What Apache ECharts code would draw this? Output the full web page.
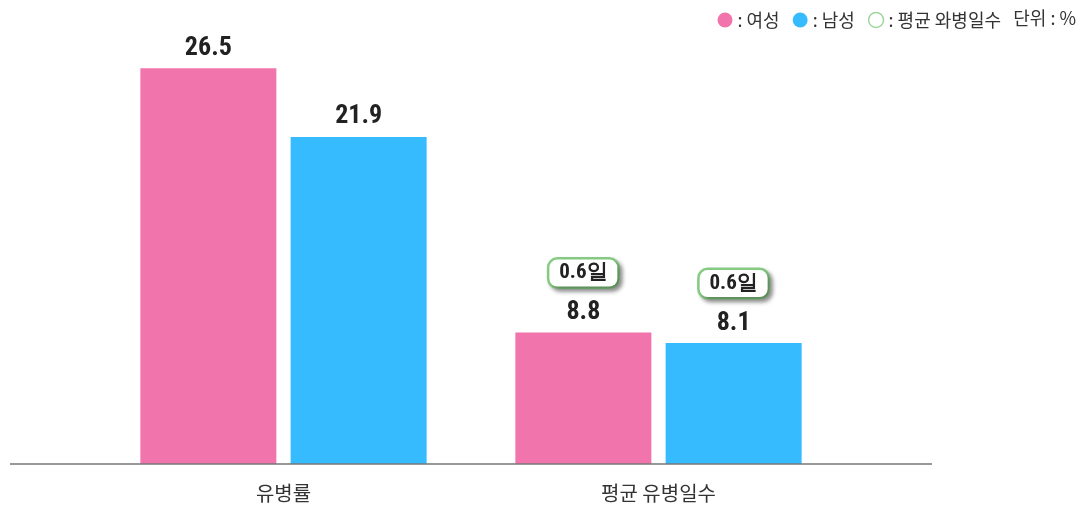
<!DOCTYPE html>
<html>
<head>
  <meta charset="utf-8">
  <title>유병률</title>
  <script src="https://cdn.jsdelivr.net/npm/echarts@6/dist/echarts.min.js"></script>
  <style>
    body { margin: 0; padding: 0; background: #fff; }
    #main { width: 1090px; height: 508px; }
  </style>
</head>
<body>
<div id="main"></div>
<script>
  // 항목 / 값
  const categories = ['유병률', '평균 유병일수'];
  const female = [26.5, 8.8];
  const male = [21.9, 8.1];
  // 평균 와병일수 (두번째 항목만)
  const femaleBedDays = [null, 0.6];
  const maleBedDays = [null, 0.6];

  const PINK = '#f174ac';
  const BLUE = '#35bbfe';
  const GREEN = '#86cc84';
  const NUM_FONT = '"Roboto Condensed", "Liberation Sans Narrow", Roboto, "DejaVu Sans", sans-serif';
  const KR_FONT = '"Noto Sans CJK KR", "Noto Sans", sans-serif';

  const richStyle = {
    val: { fontFamily: NUM_FONT, fontWeight: 'bold condensed', fontSize: 26, color: '#222', lineHeight: 30 },
    gap: { fontSize: 1, lineHeight: 11 },
    box: {
      fontFamily: NUM_FONT, fontWeight: 'bold condensed', fontSize: 21, color: '#222',
      width: 68, height: 27, align: 'center',
      backgroundColor: '#fff', borderColor: GREEN, borderWidth: 2.5, borderRadius: 8,
      shadowColor: 'rgba(0,0,0,0.35)', shadowOffsetX: 3, shadowOffsetY: 3, shadowBlur: 4
    }
  };

  function makeLabel(bedDays) {
    return {
      show: true,
      position: 'top',
      distance: 5,
      rich: richStyle,
      formatter: function (p) {
        const d = bedDays[p.dataIndex];
        if (d != null) {
          return '{box|' + d + '일}\n{gap| }\n{val|' + p.value + '}';
        }
        return '{val|' + p.value + '}';
      }
    };
  }

  const chart = echarts.init(document.getElementById('main'));
  chart.setOption({
    animation: false,
    textStyle: { fontFamily: KR_FONT },
    title: {
      text: '단위 : %',
      right: 9, top: 4,
      textStyle: { fontFamily: KR_FONT, fontSize: 18, fontWeight: 'normal', color: '#333' }
    },
    legend: {
      right: 84, top: 6,
      itemWidth: 15, itemHeight: 15, itemGap: 13,
      textStyle: { fontFamily: KR_FONT, fontSize: 18, color: '#333' },
      formatter: function (name) { return ': ' + name; },
      data: [
        { name: '여성', icon: 'circle' },
        { name: '남성', icon: 'circle' },
        { name: '평균 와병일수', icon: 'circle', itemStyle: { color: '#fff', borderColor: GREEN, borderWidth: 1.5 } }
      ]
    },
    grid: { left: 96, right: 244, top: 16, bottom: 44 },
    xAxis: {
      type: 'category',
      data: categories,
      axisLine: { show: false },
      axisTick: { show: false },
      axisLabel: { margin: 19, fontSize: 20, color: '#333', fontFamily: KR_FONT }
    },
    yAxis: { type: 'value', min: 0, max: 30, show: false },
    graphic: [{
      type: 'line',
      shape: { x1: 10, y1: 464, x2: 932, y2: 464 },
      style: { stroke: '#777', lineWidth: 1.5 },
      z: 10
    }],
    series: [
      {
        name: '여성', type: 'bar', data: female,
        barWidth: 136, barGap: '10.5%',
        itemStyle: { color: PINK },
        label: makeLabel(femaleBedDays)
      },
      {
        name: '남성', type: 'bar', data: male,
        barWidth: 136,
        itemStyle: { color: BLUE },
        label: makeLabel(maleBedDays)
      },
      {
        // 범례 표시용
        name: '평균 와병일수', type: 'scatter', data: [],
        itemStyle: { color: '#fff', borderColor: GREEN }
      }
    ]
  });
</script>
</body>
</html>
